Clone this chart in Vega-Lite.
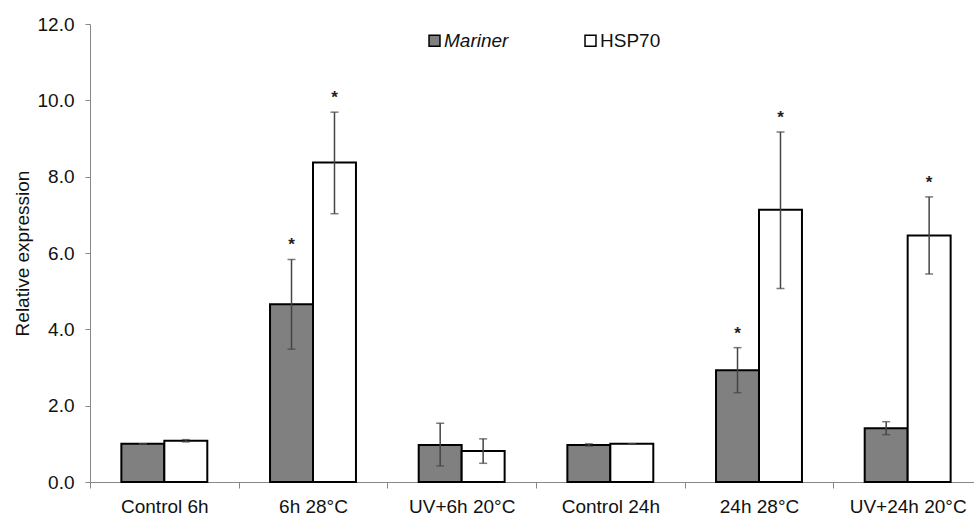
{
  "$schema": "https://vega.github.io/schema/vega-lite/v6.json",
  "width": 892,
  "height": 458,
  "autosize": {"type": "none"},
  "padding": {"left": 90, "top": 24, "right": 0, "bottom": 35},
  "background": "white",
  "config": {"view": {"stroke": null}, "font": "Liberation Sans"},
  "data": {"values": [
    {"condition": "Control 6h", "gene": "Mariner", "value": 1.0, "lo": 1.0, "hi": 1.0, "star": ""},
    {"condition": "Control 6h", "gene": "HSP70", "value": 1.08, "lo": 1.05, "hi": 1.11, "star": ""},
    {"condition": "6h 28°C", "gene": "Mariner", "value": 4.66, "lo": 3.48, "hi": 5.83, "star": "*"},
    {"condition": "6h 28°C", "gene": "HSP70", "value": 8.37, "lo": 7.03, "hi": 9.69, "star": "*"},
    {"condition": "UV+6h 20°C", "gene": "Mariner", "value": 0.97, "lo": 0.42, "hi": 1.54, "star": ""},
    {"condition": "UV+6h 20°C", "gene": "HSP70", "value": 0.81, "lo": 0.49, "hi": 1.13, "star": ""},
    {"condition": "Control 24h", "gene": "Mariner", "value": 0.97, "lo": 0.94, "hi": 1.0, "star": ""},
    {"condition": "Control 24h", "gene": "HSP70", "value": 1.0, "lo": 1.0, "hi": 1.0, "star": ""},
    {"condition": "24h 28°C", "gene": "Mariner", "value": 2.93, "lo": 2.34, "hi": 3.52, "star": "*"},
    {"condition": "24h 28°C", "gene": "HSP70", "value": 7.13, "lo": 5.07, "hi": 9.17, "star": "*"},
    {"condition": "UV+24h 20°C", "gene": "Mariner", "value": 1.41, "lo": 1.24, "hi": 1.58, "star": ""},
    {"condition": "UV+24h 20°C", "gene": "HSP70", "value": 6.46, "lo": 5.45, "hi": 7.47, "star": "*"}
  ]},
  "encoding": {
    "x": {
      "field": "condition", "type": "nominal", "sort": null,
      "scale": {"paddingInner": 0, "paddingOuter": 0},
      "axis": {
        "title": null, "labelAngle": 0, "labelFontSize": 19, "labelColor": "#111",
        "domainColor": "#888", "tickColor": "#888", "tickBand": "extent", "tickSize": 6,
        "labelPadding": 9
      }
    },
    "xOffset": {
      "field": "gene", "type": "nominal", "sort": ["Mariner", "HSP70"],
      "scale": {"paddingInner": 0, "paddingOuter": 0.73}
    }
  },
  "layer": [
    {
      "mark": {"type": "bar", "stroke": "black", "strokeWidth": 2},
      "encoding": {
        "y": {
          "field": "value", "type": "quantitative",
          "scale": {"domain": [0, 12]},
          "axis": {
            "title": "Relative expression", "titleFontSize": 19, "titleFontWeight": "normal", "titleColor": "#111",
            "titlePadding": 5,
            "values": [0, 2, 4, 6, 8, 10, 12], "format": ".1f", "grid": false,
            "labelFontSize": 19, "labelColor": "#111", "domainColor": "#888", "tickColor": "#888",
            "tickSize": 5, "labelPadding": 11
          }
        },
        "fill": {
          "field": "gene", "type": "nominal", "sort": ["Mariner", "HSP70"],
          "scale": {"domain": ["Mariner", "HSP70"], "range": ["#808080", "#ffffff"]},
          "legend": {
            "title": null, "orient": "none", "direction": "horizontal",
            "legendX": 335, "legendY": 7,
            "symbolType": "square", "symbolSize": 120, "symbolStrokeColor": "black", "symbolStrokeWidth": 1.5,
            "labelFontSize": 19, "labelColor": "#111", "labelOffset": 0, "columnPadding": 72,
            "encode": {"labels": {"update": {"fontStyle": {"signal": "datum.label === 'Mariner' ? 'italic' : 'normal'"}}}}
          }
        }
      }
    },
    {
      "mark": {"type": "rule", "color": "#444", "strokeWidth": 1.5},
      "encoding": {
        "y": {"field": "lo", "type": "quantitative"},
        "y2": {"field": "hi"}
      }
    },
    {
      "mark": {"type": "tick", "color": "#444", "thickness": 1.5, "size": 8, "orient": "horizontal"},
      "encoding": {"y": {"field": "lo", "type": "quantitative"}}
    },
    {
      "mark": {"type": "tick", "color": "#444", "thickness": 1.5, "size": 8, "orient": "horizontal"},
      "encoding": {"y": {"field": "hi", "type": "quantitative"}}
    },
    {
      "mark": {"type": "text", "fontSize": 17, "fontWeight": "bold", "color": "#222", "baseline": "middle", "dy": -14},
      "encoding": {
        "y": {"field": "hi", "type": "quantitative"},
        "text": {"field": "star"}
      }
    }
  ]
}
